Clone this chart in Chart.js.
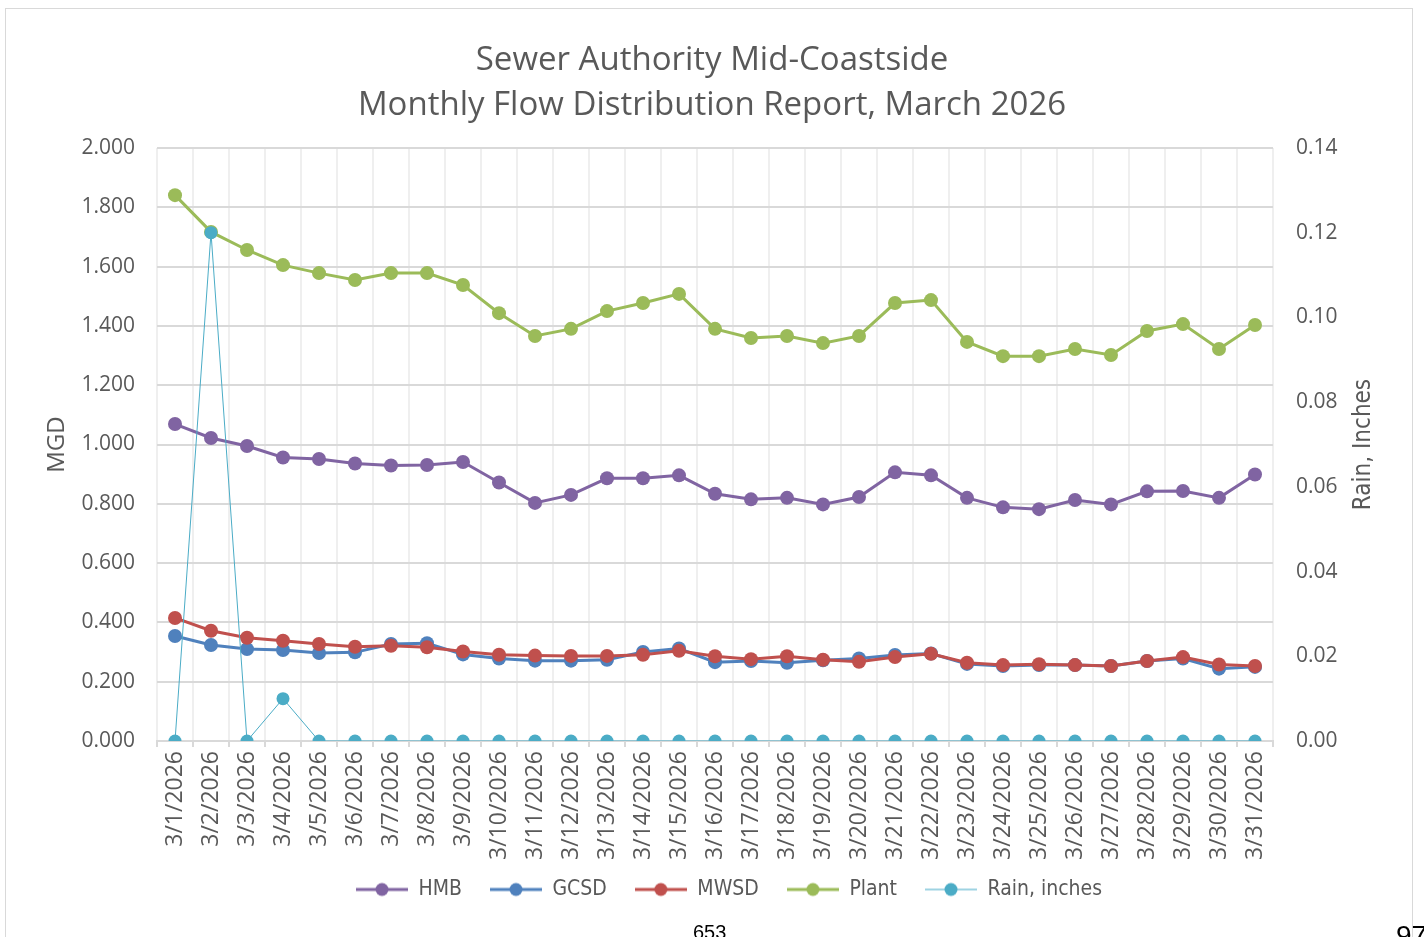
<!DOCTYPE html>
<html>
<head>
<meta charset="utf-8">
<script src="https://cdn.jsdelivr.net/npm/chart.js@4"></script>
<style>
  html, body { margin:0; padding:0; background:#fff; width:1424px; height:937px; overflow:hidden; }
  #frame { position:absolute; left:5px; top:8px; width:1408px; height:1000px; border:1px solid #d9d9d9; box-sizing:border-box; }
  #c { position:absolute; left:0; top:0; }
  .pg { position:absolute; font-family:"Liberation Sans", Arial, sans-serif; color:#000; white-space:nowrap; }
</style>
</head>
<body>
<div id="frame"></div>
<canvas id="c" width="1424" height="937"></canvas>
<div class="pg" style="left:693px; top:921px; font-size:20px;">653</div>
<div class="pg" style="left:1396px; top:920px; font-size:28px;">97</div>
<script>
const categories = ["3/1/2026","3/2/2026","3/3/2026","3/4/2026","3/5/2026","3/6/2026","3/7/2026","3/8/2026","3/9/2026","3/10/2026",
  "3/11/2026","3/12/2026","3/13/2026","3/14/2026","3/15/2026","3/16/2026","3/17/2026","3/18/2026","3/19/2026","3/20/2026",
  "3/21/2026","3/22/2026","3/23/2026","3/24/2026","3/25/2026","3/26/2026","3/27/2026","3/28/2026","3/29/2026","3/30/2026","3/31/2026"];

const hmb   = [1.069,1.022,0.995,0.956,0.951,0.936,0.929,0.931,0.941,0.872,0.803,0.830,0.886,0.886,0.896,0.834,0.815,0.820,0.798,0.823,0.906,0.896,0.820,0.788,0.782,0.813,0.798,0.842,0.843,0.820,0.899];
const gcsd  = [0.354,0.324,0.310,0.307,0.297,0.299,0.327,0.330,0.292,0.278,0.271,0.271,0.274,0.300,0.312,0.266,0.270,0.264,0.272,0.278,0.290,0.295,0.260,0.253,0.256,0.256,0.253,0.270,0.278,0.244,0.250];
const mwsd  = [0.415,0.372,0.348,0.338,0.327,0.318,0.321,0.316,0.302,0.291,0.288,0.287,0.287,0.291,0.304,0.286,0.276,0.286,0.274,0.267,0.283,0.294,0.264,0.256,0.259,0.256,0.253,0.270,0.283,0.258,0.253];
const plant = [1.841,1.717,1.656,1.605,1.578,1.555,1.578,1.578,1.538,1.443,1.366,1.390,1.450,1.477,1.508,1.390,1.359,1.366,1.342,1.366,1.477,1.487,1.346,1.298,1.298,1.322,1.302,1.383,1.406,1.322,1.403];
const rain  = [0,0.12,0,0.01,0,0,0,0,0,0,0,0,0,0,0,0,0,0,0,0,0,0,0,0,0,0,0,0,0,0,0];

const leftTicks = { min:0, max:2.0, step:0.2 };
const rightTicks = { min:0, max:0.14, step:0.02 };

const titleLines = ["Sewer Authority Mid-Coastside", "Monthly Flow Distribution Report, March 2026"];
const seriesNames = ["HMB","GCSD","MWSD","Plant","Rain, inches"];
const seriesColors = ["#8064A2","#4F81BD","#C0504D","#9BBB59","#4BACC6"];

const TXT = "#595959";
const FONT = "'Open Sans', 'DejaVu Sans', sans-serif";
const NARROW = "'Liberation Sans Narrow', 'DejaVu Sans Condensed', 'Roboto', sans-serif";

function legendIcon(color, lw, lineColor) {
  const cv = document.createElement('canvas');
  cv.width = 52; cv.height = 16;
  const g = cv.getContext('2d');
  g.strokeStyle = lineColor || color; g.lineWidth = lw;
  g.beginPath(); g.moveTo(0, 8); g.lineTo(52, 8); g.stroke();
  g.fillStyle = color;
  g.beginPath(); g.arc(26, 8, 6.5, 0, Math.PI*2); g.fill();
  return cv;
}

function mk(i, data, axis, bw, pr, order) {
  return {
    label: seriesNames[i], data: data, yAxisID: axis,
    borderColor: seriesColors[i], backgroundColor: seriesColors[i],
    pointBackgroundColor: seriesColors[i], pointBorderColor: seriesColors[i],
    borderWidth: bw, pointRadius: pr, pointHoverRadius: pr, pointBorderWidth: 0,
    tension: 0, order: order, fill: false
  };
}

const datasets = [
  mk(0, hmb, 'y', 3, 7, 5),
  mk(1, gcsd, 'y', 3, 7, 4),
  mk(2, mwsd, 'y', 3, 7, 3),
  mk(3, plant, 'y', 3, 7, 2),
  mk(4, rain, 'y1', 1, 6.5, 1)
];

const icons = [
  legendIcon(seriesColors[0], 3), legendIcon(seriesColors[1], 3), legendIcon(seriesColors[2], 3),
  legendIcon(seriesColors[3], 3), legendIcon(seriesColors[4], 2, "#9fd3e2")
];

const rightTitle = {
  id: 'rightTitle',
  afterLayout(chart) {
    const L = chart.legend;
    if (L) { L.left += 17; L.right += 17; L.top -= 15.5; L.bottom -= 15.5; }
  },
  afterDraw(chart) {
    const ctx = chart.ctx;
    ctx.save();
    ctx.translate(1364, (chart.chartArea.top + chart.chartArea.bottom) / 2);
    ctx.rotate(-Math.PI/2);
    ctx.font = "24px " + NARROW;
    ctx.fillStyle = TXT;
    ctx.textAlign = 'center';
    ctx.textBaseline = 'middle';
    ctx.fillText("Rain, Inches", 0, 0);
    ctx.restore();
  }
};

new Chart(document.getElementById('c'), {
  type: 'line',
  data: { labels: categories, datasets: datasets },
  plugins: [rightTitle],
  options: {
    responsive: false,
    animation: false,
    layout: { padding: { left: 0, right: 0, top: 0, bottom: 11.5 } },
    plugins: {
      title: {
        display: true, text: titleLines, color: TXT,
        font: { family: FONT, size: 33, weight: 'normal', lineHeight: 45/33 },
        padding: { top: 38.5, bottom: 19.5 }
      },
      legend: {
        position: 'bottom',
        labels: {
          usePointStyle: true, pointStyleWidth: 52, boxHeight: 16,
          color: TXT, padding: 28,
          font: { family: NARROW, size: 21 },
          generateLabels(chart) {
            return chart.data.datasets.map((ds, i) => ({
              text: ds.label, fillStyle: ds.borderColor, strokeStyle: ds.borderColor,
              lineWidth: 0, hidden: false, datasetIndex: i, pointStyle: icons[i], fontColor: TXT
            }));
          }
        }
      },
      tooltip: { enabled: false }
    },
    scales: {
      x: {
        offset: true,
        grid: { offset: true, color: '#efefef', lineWidth: 2, tickLength: 6, tickColor: '#d9d9d9' },
        border: { color: '#d9d9d9', width: 2 },
        ticks: { color: TXT, font: { family: FONT, size: 23 }, maxRotation: 90, minRotation: 90, padding: 4, autoSkip: false },
        afterFit(s) { s.height = 125.5; }
      },
      y: {
        position: 'left',
        min: leftTicks.min, max: leftTicks.max,
        grid: { color: '#d9d9d9', lineWidth: 2, drawTicks: false },
        border: { display: false },
        ticks: { stepSize: leftTicks.step, color: TXT, font: { family: FONT, size: 21 }, padding: 22,
          callback: v => Number(v).toFixed(3) },
        title: { display: true, text: 'MGD', color: TXT, font: { family: FONT, size: 24, lineHeight: 1.2 }, padding: { top: 42.6, bottom: 0 } },
        afterFit(s) { s.width = 157; }
      },
      y1: {
        position: 'right',
        min: rightTicks.min, max: rightTicks.max,
        grid: { display: false, drawTicks: false },
        border: { display: false },
        ticks: { stepSize: rightTicks.step, color: TXT, font: { family: FONT, size: 21 }, padding: 23,
          callback: v => Number(v).toFixed(2) },
        afterFit(s) { s.width = 151; }
      }
    }
  }
});
</script>
</body>
</html>
